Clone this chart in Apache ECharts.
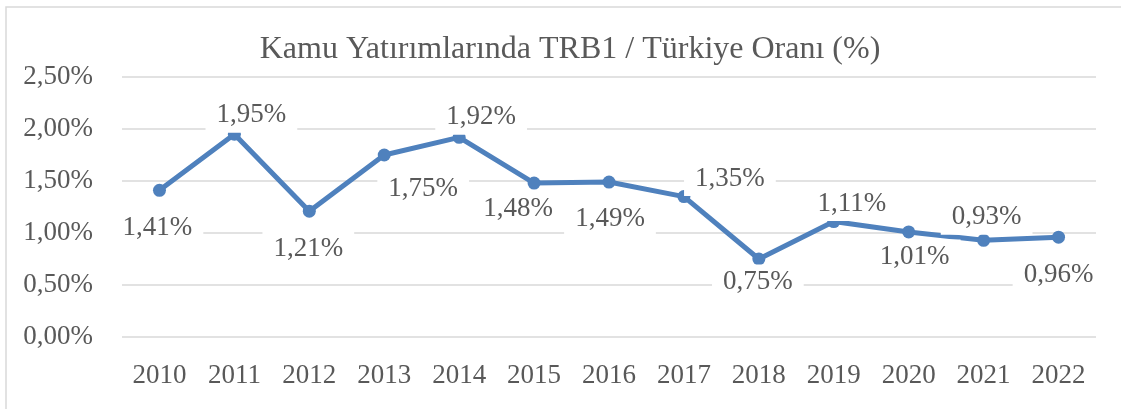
<!DOCTYPE html>
<html>
<head>
<meta charset="utf-8">
<script src="https://cdn.jsdelivr.net/npm/echarts@6/dist/echarts.min.js"></script>
<style>
  html, body { margin: 0; padding: 0; background: #fff; }
  #chart { width: 1121px; height: 409px; }
</style>
</head>
<body>
<div id="chart"></div>
<script>
var years = ['2010','2011','2012','2013','2014','2015','2016','2017','2018','2019','2020','2021','2022'];
var ratio = [1.41, 1.95, 1.21, 1.75, 1.92, 1.48, 1.49, 1.35, 0.75, 1.11, 1.01, 0.93, 0.96];
var yTicks = [0, 0.5, 1, 1.5, 2, 2.5];

// where each data label sits relative to its point (px)
var labelOffsets = [
  [-2, 38], [17, -19], [-1, 38], [39, 34], [22, -20], [-16, 26], [1, 37],
  [46, -18], [-1, 23], [18, -18], [6, 25], [3, -23], [0, 38]
];

var FONT = "'Liberation Serif', 'Times New Roman', serif";
var TXT = '#595959';
var BLUE = '#4f81bd';

function pct(v){
  return v.toFixed(2).replace('.', ',') + '%';
}

var chart = echarts.init(document.getElementById('chart'));
var option = {
  backgroundColor: '#fff',
  animation: false,
  title: {
    text: 'Kamu Yatırımlarında TRB1 / Türkiye Oranı (%)',
    left: 565,
    textAlign: 'center',
    top: 29,
    textStyle: { fontFamily: FONT, fontSize: 32, fontWeight: 'normal', color: TXT }
  },
  graphic: [{
    type: 'rect',
    shape: { x: 6, y: 7, width: 1300, height: 600 },
    style: { fill: 'none', stroke: '#d9d9d9', lineWidth: 1.5 },
    silent: true
  }],
  grid: { left: 122, right: 25, top: 77, bottom: 72 },
  xAxis: {
    type: 'category',
    data: years,
    boundaryGap: true,
    axisLine: { show: false },
    axisTick: { show: false },
    axisLabel: { fontFamily: FONT, fontSize: 27, color: TXT, margin: 25 }
  },
  yAxis: {
    type: 'value',
    min: yTicks[0],
    max: yTicks[yTicks.length - 1],
    interval: 0.5,
    axisLine: { show: false },
    axisTick: { show: false },
    splitLine: { lineStyle: { color: '#d9d9d9', width: 1.5 } },
    axisLabel: {
      fontFamily: FONT, fontSize: 27, color: TXT, margin: 29,
      formatter: function(v){ return pct(v); }
    }
  },
  series: [{
    type: 'line',
    data: ratio.map(function(v, i){
      return { value: v, label: { offset: labelOffsets[i] } };
    }),
    symbol: 'circle',
    symbolSize: 13,
    lineStyle: { color: BLUE, width: 5 },
    itemStyle: { color: BLUE },
    label: {
      show: true,
      position: 'inside',
      align: 'center',
      verticalAlign: 'middle',
      fontFamily: FONT,
      fontSize: 27,
      color: TXT,
      backgroundColor: '#fff',
      padding: [4, 11],
      formatter: function(p){ return pct(p.value); }
    }
  }]
};
chart.setOption(option);
</script>
</body>
</html>
